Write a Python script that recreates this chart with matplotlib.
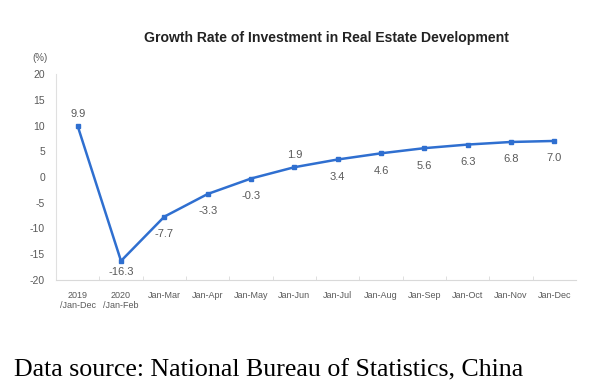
import matplotlib.pyplot as plt

# categories and values
periods = ["2019\n/Jan-Dec", "2020\n/Jan-Feb", "Jan-Mar", "Jan-Apr", "Jan-May", "Jan-Jun",
           "Jan-Jul", "Jan-Aug", "Jan-Sep", "Jan-Oct", "Jan-Nov", "Jan-Dec"]
growth = [9.9, -16.3, -7.7, -3.3, -0.3, 1.9, 3.4, 4.6, 5.6, 6.3, 6.8, 7.0]
label_above = [True, False, False, False, False, True, False, False, False, False, False, False]
yticks = [20, 15, 10, 5, 0, -5, -10, -15, -20]

blue = "#2f6fd0"
grey = "#595959"

fig = plt.figure(figsize=(6.15, 3.91), dpi=100)
ax = fig.add_axes([56 / 615, 1 - 280 / 391, 520 / 615, 206 / 391])

x = list(range(len(periods)))
ax.plot(x, growth, color=blue, lw=1.8, marker="s", ms=3.5)

for xi, v, up in zip(x, growth, label_above):
    off = 5 if up else -9
    if v < -15:
        off = -4
    ax.annotate(f"{v:.1f}", (xi, v), xytext=(0, off),
                textcoords="offset points", ha="center",
                va="bottom" if up else "top", fontsize=8, color=grey,
                family="Liberation Sans")

ax.set_xlim(-0.5, len(periods) - 0.5)
ax.set_ylim(-20, 20)
ax.set_yticks(yticks)
ax.set_yticklabels([str(t) for t in yticks], fontsize=7.5, color=grey, family="Liberation Sans")
ax.tick_params(axis="y", length=0, pad=8)

ax.set_xticks(x)
ax.set_xticklabels(periods, fontsize=6.5, color=grey, family="Liberation Sans", linespacing=1.1)
ax.set_xticks([i + 0.5 for i in range(len(periods) - 1)], minor=True)
ax.tick_params(axis="x", which="major", length=0, pad=8)
ax.tick_params(axis="x", which="minor", length=3, direction="in", color="#d9d9d9")

for s in ["top", "right"]:
    ax.spines[s].set_visible(False)
ax.spines["left"].set_color("#e0e0e0")
ax.spines["bottom"].set_color("#d9d9d9")

fig.text(40 / 615, 1 - 58 / 391, "(%)", fontsize=7, color=grey, ha="center", va="center",
         family="Liberation Sans")
fig.text(326 / 615, 1 - 38 / 391, "Growth Rate of Investment in Real Estate Development",
         fontsize=10.1, fontweight="bold", color="#222222", ha="center", va="center",
         family="Liberation Sans")
fig.text(14 / 615, 1 - 370 / 391, "Data source: National Bureau of Statistics, China",
         fontsize=18.6, color="black", ha="left", va="center", family="Liberation Serif")

fig.savefig("out.png", dpi=100)
